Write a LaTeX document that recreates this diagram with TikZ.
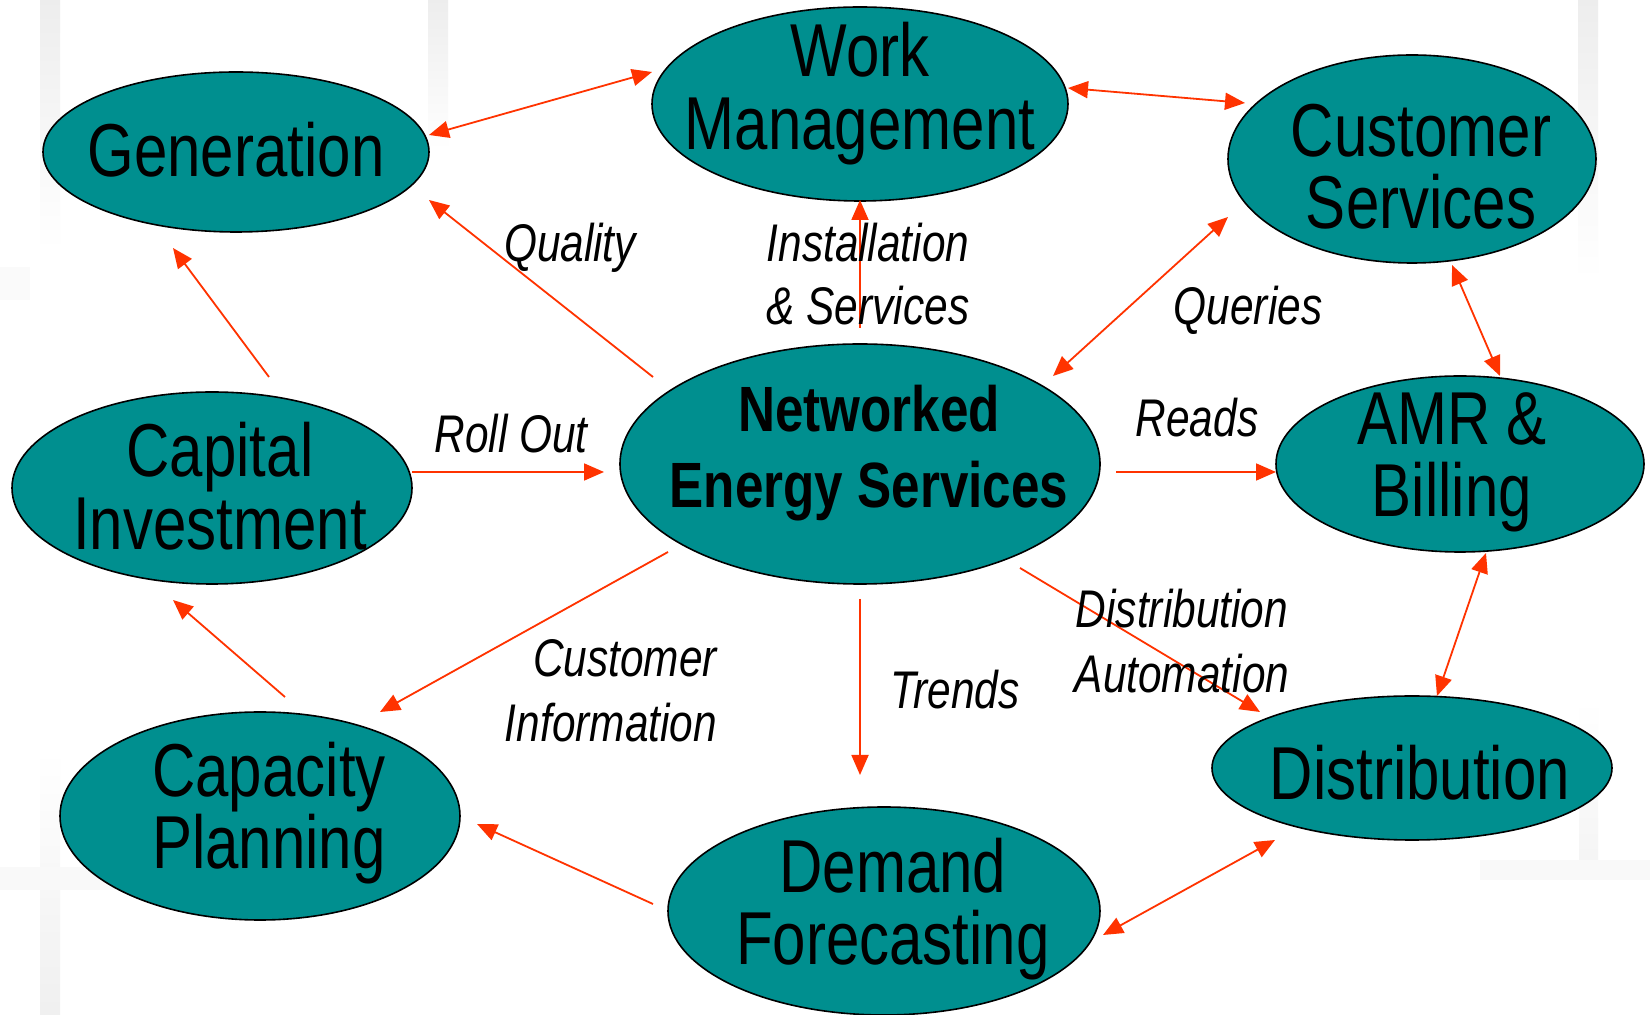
\documentclass[tikz,border=0pt]{standalone}
\usepackage{fontspec}
\setmainfont{Liberation Sans}[FakeStretch=0.8]
\usetikzlibrary{arrows.meta,shapes.geometric,calc}
\definecolor{tealfill}{RGB}{0,143,143}
\definecolor{arrred}{RGB}{255,51,0}
\newcommand\twoc[3]{\vtop{\baselineskip=#3\lineskiplimit=-200pt\hbox to 0pt{\hss#1\hss}\hbox to 0pt{\hss#2\hss}}}
\newcommand\twor[3]{\vtop{\baselineskip=#3\lineskiplimit=-200pt\hbox to 0pt{\hss#1}\hbox to 0pt{\hss#2}}}
\begin{document}
\begin{tikzpicture}[x=1pt,y=1pt,
  ell/.style={ellipse, draw=black, line width=1.6pt, fill=tealfill, inner sep=0pt, outer sep=0pt},
  ntxt/.style={inner sep=0pt, anchor=base, font=\fontsize{75}{73}\selectfont},
  btxt/.style={inner sep=0pt, anchor=base, font=\fontsize{64}{76}\selectfont\bfseries},
  ltxt/.style={inner sep=0pt, anchor=base, font=\fontsize{53}{64}\selectfont\itshape},
  arr/.style={draw=arrred, line width=1.8pt, -{Triangle[length=20pt,width=17pt]}},
  darr/.style={draw=arrred, line width=1.8pt, {Triangle[length=20pt,width=17pt]}-{Triangle[length=20pt,width=17pt]}},
  stripe/.style={top color=black!7, bottom color=white, draw=none}
]
\useasboundingbox (0,0) rectangle (1650,1015);
\fill[white] (0,0) rectangle (1650,1015);
% faint background stripes
\shade[stripe] (40,765) rectangle (60,1015);
\shade[stripe] (428,865) rectangle (448,1015);
\shade[stripe] (1578,735) rectangle (1598,1015);
\shade[top color=white, bottom color=black!6, draw=none] (40,0) rectangle (60,265);
\fill[black!2.5] (0,125) rectangle (130,148);
\fill[black!2] (0,715) rectangle (30,748);
\shade[top color=white, bottom color=black!4, draw=none] (1579,155) rectangle (1598,315);
\fill[black!2.5] (1480,135) rectangle (1650,155);

% nodes
\node[ell, minimum width=386, minimum height=160] (gen) at (236,863) {};
\node[ell, minimum width=416, minimum height=194] (wm) at (860,911) {};
\node[ell, minimum width=368, minimum height=208] (cs) at (1412,856) {};
\node[ell, minimum width=480, minimum height=240] (nes) at (860,551) {};
\node[ell, minimum width=400, minimum height=192] (ci) at (212,527) {};
\node[ell, minimum width=368, minimum height=176] (amr) at (1460,551) {};
\node[ell, minimum width=400, minimum height=144] (dist) at (1412,247) {};
\node[ell, minimum width=400, minimum height=208] (cp) at (260,199) {};
\node[ell, minimum width=432, minimum height=208] (df) at (884,104) {};

% node texts
\node[ntxt] (gent) at (236,838) {\hbox to 0pt{\hss Generation\hss}};
\node[ntxt] (wmt) at (860,938) {\twoc{Work}{Management}{73pt}};
\node[ntxt] (cst) at (1421,858) {\twoc{Customer}{Services}{72pt}};
\node[btxt] (nest) at (869,583) {\twoc{Networked}{Energy Services}{76pt}};
\node[ntxt] (cit) at (220,538) {\twoc{Capital}{Investment}{73pt}};
\node[ntxt] (amrt) at (1452,570) {\twoc{AMR \&}{Billing}{72pt}};
\node[ntxt] (distt) at (1420,215) {\hbox to 0pt{\hss Distribution\hss}};
\node[ntxt] (cpt) at (269,218) {\twoc{Capacity}{Planning}{72pt}};
\node[ntxt] (dft) at (893,122) {\twoc{Demand}{Forecasting}{72pt}};

% connectors
\draw[darr] ($(gen.center)+(193,17)$) -- ($(wm.center)+(-208,32)$);
\draw[darr] ($(wm.center)+(208,16)$) -- ($(cs.center)+(-167,56)$);
\draw[darr] ($(cs.center)+(40,-106)$) -- ($(amr.center)+(40,88)$);
\draw[darr] ($(amr.center)+(26,-89)$) -- ($(dist.center)+(25,72)$);
\draw[darr] ($(dist.center)+(-137,-72)$) -- ($(df.center)+(219,-24)$);
\draw[arr] ($(df.center)+(-231,7)$) -- ($(cp.center)+(217,-8)$);
\draw[arr] ($(cp.center)+(25,119)$) -- ($(ci.center)+(-39,-112)$);
\draw[arr] ($(ci.center)+(57,111)$) -- ($(gen.center)+(-63,-96)$);
\draw[arr] ($(nes.center)+(-207,87)$) -- ($(gen.center)+(193,-48)$);
\draw[arr] ($(nes.center)+(0,136)$) -- ($(wm.center)+(0,-96)$);
\draw[darr] ($(cs.center)+(-184,-58)$) -- ($(nes.center)+(193,88)$);
\draw[arr] ($(nes.center)+(256,-8)$) -- ($(amr.center)+(-184,-8)$);
\draw[arr] ($(nes.center)+(160,-104)$) -- ($(dist.center)+(-152,56)$);
\draw[arr] ($(nes.center)+(-192,-88)$) -- ($(cp.center)+(120,104)$);
\draw[arr] ($(nes.center)+(0,-135)$) -- ($(df.center)+(-24,136)$);
\draw[arr] ($(ci.center)+(200,16)$) -- ($(nes.center)+(-256,-8)$);

% connector labels
\node[ltxt] (lq) at (570,753) {\hbox to 0pt{\hss Quality\hss}};
\node[ltxt] (li) at (868,753) {\twoc{Installation}{\& Services}{63pt}};
\node[ltxt] (lqu) at (1248,690) {\hbox to 0pt{\hss Queries\hss}};
\node[ltxt] (lr) at (1197,578) {\hbox to 0pt{\hss Reads\hss}};
\node[ltxt] (lro) at (511,562) {\hbox to 0pt{\hss Roll Out\hss}};
\node[ltxt] (lda) at (1182,387) {\twoc{Distribution}{Automation}{65pt}};
\node[ltxt] (lci) at (717,338) {\twor{Customer}{Information}{65pt}};
\node[ltxt] (lt) at (955,306) {\hbox to 0pt{\hss Trends\hss}};
\end{tikzpicture}
\end{document}
